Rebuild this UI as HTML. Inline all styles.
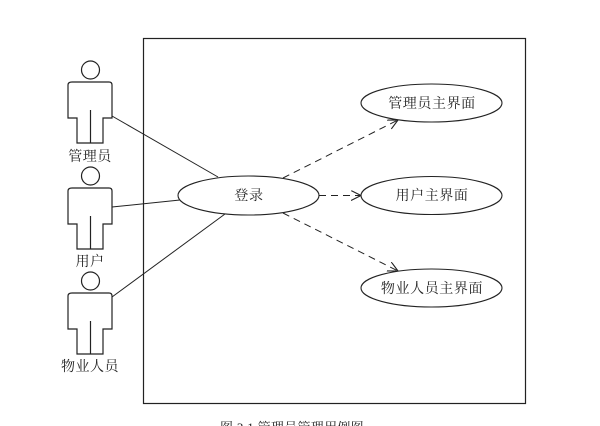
<!DOCTYPE html>
<html><head><meta charset="utf-8"><style>
html,body{margin:0;padding:0;background:#fff;width:600px;height:426px;overflow:hidden}
svg{display:block}
text{font-family:"Liberation Serif","Noto Serif CJK SC","Noto Sans CJK SC",serif;fill:#222}
</style></head><body>
<svg width="600" height="426" viewBox="0 0 600 426" xmlns="http://www.w3.org/2000/svg">
<defs>
<g id="actor" fill="#fff" stroke="#222" stroke-width="1.2">
<circle cx="90.5" cy="0" r="9"/>
<path d="M72 12 H109 Q112 12 112 15 V48 H103 V73 H77 V48 H68 V15 Q68 12 72 12 Z"/>
<line x1="90.5" y1="40" x2="90.5" y2="73"/>
</g>
<marker id="ah" markerWidth="12" markerHeight="12" refX="10" refY="5" orient="auto" markerUnits="userSpaceOnUse">
<path d="M0 0 L10 5 L0 10" fill="none" stroke="#222" stroke-width="1.1"/>
</marker>
</defs>
<rect x="143.5" y="38.5" width="382" height="365" fill="none" stroke="#222" stroke-width="1.2"/>
<use href="#actor" y="70"/>
<use href="#actor" y="176"/>
<use href="#actor" y="281"/>
<g font-size="14" text-anchor="middle" letter-spacing="0.5">
<text x="90" y="161">管理员</text>
<text x="90" y="266">用户</text>
<text x="90" y="371">物业人员</text>
</g>
<g stroke="#222" stroke-width="1" fill="none">
<line x1="112" y1="116" x2="218" y2="177"/>
<line x1="112" y1="207" x2="180" y2="200"/>
<line x1="112" y1="297" x2="225" y2="214"/>
<g stroke-dasharray="7,5" marker-end="url(#ah)">
<line x1="283" y1="178" x2="398" y2="120"/>
<line x1="319" y1="195.5" x2="361" y2="195.5"/>
<line x1="283" y1="213" x2="398" y2="271"/>
</g>
</g>
<g fill="#fff" stroke="#222" stroke-width="1.1">
<ellipse cx="248.5" cy="195.5" rx="70.5" ry="19.5"/>
<ellipse cx="431.5" cy="103" rx="70.5" ry="19"/>
<ellipse cx="431.5" cy="195.5" rx="70.5" ry="19"/>
<ellipse cx="431.5" cy="288" rx="70.5" ry="19"/>
</g>
<g font-size="14" text-anchor="middle" letter-spacing="0.6">
<text x="249" y="200">登录</text>
<text x="432" y="108">管理员主界面</text>
<text x="432" y="200">用户主界面</text>
<text x="432" y="293">物业人员主界面</text>
<text x="292" y="432" font-size="13" letter-spacing="0.3">图 3.1 管理员管理用例图</text>
</g>
</svg>
</body></html>
